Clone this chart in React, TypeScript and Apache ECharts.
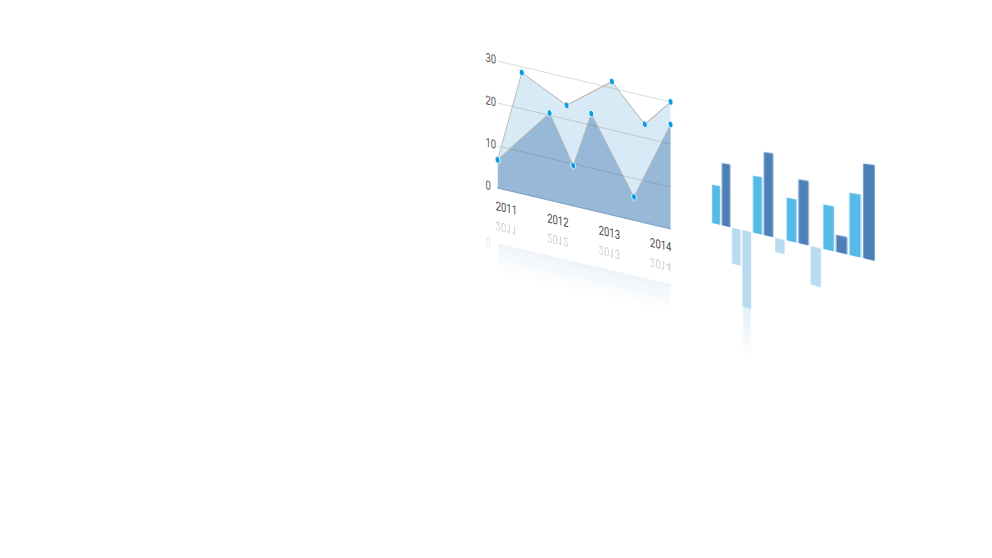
import React, { useEffect, useRef } from "react";
import * as echarts from "echarts";

// ---------- data: area chart ----------
const yearTicks = [2011, 2012, 2013, 2014];
const yearMax = 2014.36;
const yMax = 30;
const upperYears = [2011.0, 2011.47, 2012.34, 2013.22, 2013.86, 2014.36];
const upperValues = [6.6, 28.5, 23.3, 31.4, 23.2, 29.9];
const lowerYears = [2011.0, 2012.01, 2012.47, 2012.82, 2013.65, 2014.36];
const lowerValues = [6.6, 20.5, 9.5, 22.7, 5.5, 24.6];

// ---------- data: bar chart ----------
const barCategories = ["a1", "a2", "a3", "a4", "b1", "b2", "b3", "c1", "c2", "c3", "d1", "d2", "e1", "e2"];
const barValues = [38.3, 61.3, -35, -73.8, 53.9, 77.6, -13.3, 38.9, 57.3, -34.2, 38.8, 14.7, 52.8, 79.1];
const barKinds = ["light", "dark", "pale", "pale", "light", "dark", "pale", "light", "dark", "pale", "light", "dark", "light", "dark"];
const barFade = [0, 0, 0, -50, 0, 0, 0, 0, 0, 0, 0, 0, 0, 0];

const barColors: Record<string, string> = { light: "#56bae8", dark: "#4c80b6", pale: "#b9dcf0" };

const FONT = "Roboto";

// area chart layout (local px)
const G = { left: 60, top: 60, width: 227.6, height: 127.5 };
const AREA_A = 0.76;
const AREA_B = 0.18;
const AREA_E = 452;
const AREA_F = -10.3;
const MIRROR_F = 420.7;

function pairs(xs: number[], ys: number[]) {
  return xs.map((x, i) => [x, ys[i]]);
}

function areaOption(reflected: boolean): any {
  const areaSeries = (name: string, data: number[][], color: string, z: number) => ({
    name,
    type: "line",
    data,
    z,
    clip: false,
    symbol: "none",
    lineStyle: { width: 0 },
    areaStyle: { color, opacity: 1 },
  });
  const lineSeries = (name: string, data: number[][]) => ({
    name,
    type: "line",
    data,
    z: 3,
    clip: false,
    symbol: "circle",
    symbolSize: 6.5,
    showSymbol: true,
    showAllSymbol: true,
    lineStyle: { color: "#b8b8b8", width: 1.1 },
    itemStyle: { color: "#0a9be2", borderColor: "#eef6fb", borderWidth: 1 },
  });
  const up = pairs(upperYears, upperValues);
  const low = pairs(lowerYears, lowerValues);
  const series: any[] = [areaSeries("upper area", up, "#d8eaf5", 1), areaSeries("lower area", low, "#97b8d7", 1)];
  if (!reflected) series.push(lineSeries("upper", up), lineSeries("lower", low));
  return {
    animation: false,
    backgroundColor: "transparent",
    grid: { left: G.left, top: G.top, width: G.width, height: G.height },
    xAxis: {
      type: "value",
      min: yearTicks[0],
      max: yearMax,
      interval: 1,
      z: 2,
      axisLine: { show: true, lineStyle: { color: "#7fa3c7", width: 1 } },
      axisTick: { show: false },
      splitLine: { show: false },
      axisLabel: {
        show: true,
        showMaxLabel: false,
        align: "center",
        margin: 12,
        padding: [0, 0, 0, 23],
        fontFamily: FONT,
        fontSize: 12.5,
        color: "#4a4a4a",
        formatter: (v: number) => String(v),
      },
    },
    yAxis: {
      type: "value",
      min: 0,
      max: yMax,
      interval: 10,
      z: 2,
      axisLine: { show: false },
      axisTick: { show: false },
      splitLine: { show: !reflected, lineStyle: { color: "rgba(90,90,90,0.24)", width: 1 } },
      axisLabel: {
        show: true,
        align: "left",
        margin: 16,
        fontFamily: FONT,
        fontSize: 12.5,
        color: "#5a5a5a",
        formatter: (v: number) => (reflected && v !== 0 ? "" : String(v)),
      },
    },
    series,
  };
}

// bar chart layout (local px): a perspective (homography) applied through CSS
const BAR_PITCH = 9.7;
const BL = 40; // grid left
const BB = 140; // baseline local y
const axisHalf = 120; // one value unit is one local px
const PG = -0.001296;
const PM = 0.233;
const PX0 = 711.2;
const PY0 = 222.8;

function barMatrix() {
  const m11 = PX0 * PG + 1;
  const m12 = PY0 * PG + PM;
  const m14 = PG;
  const m22 = 1;
  const m41 = PX0 * (1 - PG * BL) - BL;
  const m42 = PY0 * (1 - PG * BL) - PM * BL - BB;
  const m44 = 1 - PG * BL;
  return `matrix3d(${m11},${m12},0,${m14},0,${m22},0,0,0,0,1,0,${m41},${m42},0,${m44})`;
}

function barOption(): any {
  return {
    animation: false,
    backgroundColor: "transparent",
    grid: { left: BL, top: BB - axisHalf, width: BAR_PITCH * barCategories.length, height: axisHalf * 2 },
    xAxis: {
      type: "category",
      data: barCategories,
      axisLine: { show: false },
      axisTick: { show: false },
      axisLabel: { show: false },
      splitLine: { show: false },
    },
    yAxis: {
      type: "value",
      min: -axisHalf,
      max: axisHalf,
      show: false,
    },
    series: [
      {
        name: "bars",
        type: "bar",
        stack: "all",
        barCategoryGap: "17%",
        data: barValues.map((v, i) => ({
          value: v,
          itemStyle: { color: barColors[barKinds[i]] },
        })),
      },
      {
        name: "fade",
        type: "bar",
        stack: "all",
        barCategoryGap: "17%",
        data: barFade.map((v) => (v === 0 ? null : v)),
        itemStyle: {
          color: new echarts.graphic.LinearGradient(0, 0, 0, 1, [
            { offset: 0, color: "rgba(185,220,240,0.42)" },
            { offset: 1, color: "rgba(185,220,240,0)" },
          ]),
          borderColor: "#ffffff",
          borderWidth: 0.5,
        },
      },
    ],
  };
}

const baseDiv: React.CSSProperties = {
  position: "absolute",
  left: 0,
  top: 0,
  transformOrigin: "0 0",
};

const REFLECT_MASK =
  "linear-gradient(to bottom, rgba(0,0,0,0) 158px, rgba(0,0,0,0.15) 187px, rgba(0,0,0,0.32) 215px, rgba(0,0,0,0.32) 300px)";

export default function App() {
  const areaRef = useRef<HTMLDivElement>(null);
  const mirrorRef = useRef<HTMLDivElement>(null);
  const barRef = useRef<HTMLDivElement>(null);

  useEffect(() => {
    const charts = [
      echarts.init(areaRef.current!, undefined, { renderer: "svg" }),
      echarts.init(mirrorRef.current!, undefined, { renderer: "svg" }),
      echarts.init(barRef.current!, undefined, { renderer: "svg" }),
    ];
    charts[0].setOption(areaOption(false));
    charts[1].setOption(areaOption(true));
    charts[2].setOption(barOption());
    return () => charts.forEach((c) => c.dispose());
  }, []);

  return (
    <div style={{ position: "absolute", left: 0, top: 0, width: 992, height: 558, overflow: "hidden", background: "#fff" }}>
      <div
        ref={mirrorRef}
        style={{
          ...baseDiv,
          width: 400,
          height: 300,
          transform: `matrix(${AREA_A},${AREA_B},0,-1,${AREA_E},${MIRROR_F})`,
          WebkitMaskImage: REFLECT_MASK,
          maskImage: REFLECT_MASK,
        }}
      />
      <div
        ref={areaRef}
        style={{
          ...baseDiv,
          width: 400,
          height: 300,
          transform: `matrix(${AREA_A},${AREA_B},0,1,${AREA_E},${AREA_F})`,
        }}
      />
      <div ref={barRef} style={{ ...baseDiv, width: 240, height: 300, transform: barMatrix() }} />
    </div>
  );
}
